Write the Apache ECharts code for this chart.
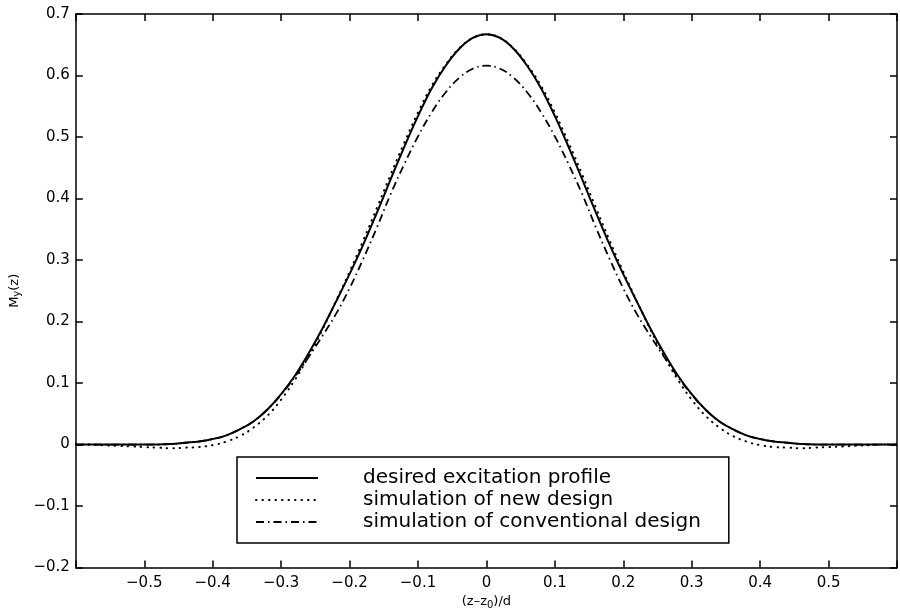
<!DOCTYPE html>
<html>
<head>
<meta charset="utf-8">
<script src="https://cdn.jsdelivr.net/npm/echarts@6/dist/echarts.min.js"></script>
<style>html,body{margin:0;padding:0;background:#fff;}#c{width:900px;height:615px;}</style>
</head>
<body>
<div id="c"></div>
<script>
// x positions (z - z0)/d
const xs = [-0.60,-0.58,-0.56,-0.54,-0.52,-0.50,-0.48,-0.46,-0.44,-0.42,-0.40,-0.38,-0.36,-0.34,-0.32,-0.30,-0.28,-0.26,-0.24,-0.22,-0.20,-0.18,-0.16,-0.14,-0.12,-0.10,-0.08,-0.06,-0.04,-0.02,0.00,
  0.02,0.04,0.06,0.08,0.10,0.12,0.14,0.16,0.18,0.20,0.22,0.24,0.26,0.28,0.30,0.32,0.34,0.36,0.38,0.40,0.42,0.44,0.46,0.48,0.50,0.52,0.54,0.56,0.58,0.60];
// desired excitation profile
const desired = [0,0,0,0,0,0,0,0.001,0.003,0.005,0.009,0.015,0.025,0.038,0.057,0.082,0.112,0.148,0.188,0.232,0.277,0.325,0.377,0.431,0.484,0.534,0.579,0.615,0.643,0.661,0.667,
  0.661,0.643,0.615,0.579,0.534,0.484,0.431,0.377,0.325,0.277,0.232,0.188,0.148,0.112,0.082,0.057,0.038,0.025,0.015,0.009,0.005,0.003,0.001,0,0,0,0,0,0,0];
// simulation of new design
const newDesign = [0,0,-0.001,-0.002,-0.003,-0.004,-0.005,-0.006,-0.005,-0.004,-0.001,0.005,0.014,0.028,0.047,0.073,0.105,0.143,0.186,0.233,0.281,0.332,0.385,0.439,0.491,0.540,0.583,0.617,0.644,0.661,0.667,
  0.661,0.644,0.617,0.583,0.540,0.491,0.439,0.385,0.332,0.281,0.233,0.186,0.143,0.105,0.073,0.047,0.028,0.014,0.005,-0.001,-0.004,-0.005,-0.006,-0.005,-0.004,-0.003,-0.002,-0.001,0,0];
// simulation of conventional design
const conventional = [0,0,0,0,0,0,0,0.001,0.003,0.005,0.009,0.015,0.025,0.038,0.057,0.081,0.110,0.142,0.176,0.212,0.254,0.302,0.353,0.407,0.456,0.501,0.540,0.572,0.596,0.611,0.616,
  0.611,0.596,0.572,0.540,0.501,0.456,0.407,0.353,0.302,0.254,0.212,0.176,0.142,0.110,0.081,0.057,0.038,0.025,0.015,0.009,0.005,0.003,0.001,0,0,0,0,0,0,0];

const seriesNames = ['desired excitation profile', 'simulation of new design', 'simulation of conventional design'];
const xTickValues = [-0.5,-0.4,-0.3,-0.2,-0.1,0,0.1,0.2,0.3,0.4,0.5];
const xTickLabels = ['\u22120.5','\u22120.4','\u22120.3','\u22120.2','\u22120.1','0','0.1','0.2','0.3','0.4','0.5'];
const yTickValues = [-0.2,-0.1,0,0.1,0.2,0.3,0.4,0.5,0.6,0.7];
const yTickLabels = ['\u22120.2','\u22120.1','0','0.1','0.2','0.3','0.4','0.5','0.6','0.7'];
const xTitle = '(z\u2013z{sub|0})/d';
const yTitle = 'M{sub|y}(z)';

function lookup(vals, labels) {
  return function (v) {
    for (let i = 0; i < vals.length; i++) if (Math.abs(vals[i] - v) < 1e-6) return labels[i];
    return '';
  };
}
const pairs = arr => xs.map((x, i) => [x, arr[i]]);

const FONT = 'DejaVu Sans';
const axisCommon = {
  type: 'value',
  axisLine: { show: true, onZero: false, lineStyle: { color: '#000', width: 1.5 } },
  axisTick: { show: true, inside: true, length: 7, lineStyle: { color: '#000', width: 1.5 } },
  splitLine: { show: false }
};
const subStyle = { fontSize: 10, verticalAlign: 'bottom', padding: [6, 0, 0, 0], fontFamily: FONT, color: '#000' };

const chart = echarts.init(document.getElementById('c'), null, { renderer: 'canvas' });
chart.setOption({
  backgroundColor: '#fff',
  animation: false,
  grid: { left: 74, top: 14, width: 831, height: 560, containLabel: false },
  xAxis: [
    Object.assign({}, axisCommon, {
      position: 'bottom', min: -0.6, max: 0.6, interval: 0.1,
      axisLabel: { formatter: lookup(xTickValues, xTickLabels), color: '#000', fontFamily: FONT, fontSize: 15, margin: 8 },
      name: xTitle, nameLocation: 'middle', nameGap: 24,
      nameTextStyle: { color: '#000', fontFamily: FONT, fontSize: 13, rich: { sub: subStyle } }
    }),
    Object.assign({}, axisCommon, {
      position: 'top', min: -0.6, max: 0.6, interval: 0.1, axisLabel: { show: false }
    })
  ],
  yAxis: [
    Object.assign({}, axisCommon, {
      position: 'left', min: -0.2, max: 0.7, interval: 0.1,
      axisLabel: { formatter: lookup(yTickValues, yTickLabels), color: '#000', fontFamily: FONT, fontSize: 15, margin: 6 },
      name: yTitle, nameLocation: 'middle', nameGap: 41, nameRotate: 90,
      nameTextStyle: { color: '#000', fontFamily: FONT, fontSize: 13, rich: { sub: subStyle } }
    }),
    Object.assign({}, axisCommon, {
      position: 'right', min: -0.2, max: 0.7, interval: 0.1, axisLabel: { show: false }
    })
  ],
  legend: {
    orient: 'vertical',
    left: 237, top: 457,
    data: seriesNames,
    itemWidth: 62, itemHeight: 14, itemGap: 2,
    padding: [11, 28, 11, 18],
    borderColor: '#000', borderWidth: 1.5,
    backgroundColor: '#fff',
    itemStyle: { color: 'rgba(0,0,0,0)', borderColor: 'rgba(0,0,0,0)', borderWidth: 0 },
    textStyle: { color: '#000', fontFamily: FONT, fontSize: 20, lineHeight: 20, padding: [0, 0, 0, 40] }
  },
  series: [
    {
      name: seriesNames[0], type: 'line', data: pairs(desired), symbol: 'none', smooth: 0.4,
      itemStyle: { color: '#000' },
      lineStyle: { color: '#000', width: 2, type: 'solid' }, z: 3
    },
    {
      name: seriesNames[1], type: 'line', data: pairs(newDesign), symbol: 'none', smooth: 0.4,
      itemStyle: { color: '#000' },
      lineStyle: { color: '#000', width: 2, type: [0.5, 6], cap: 'round' }, z: 2
    },
    {
      name: seriesNames[2], type: 'line', data: pairs(conventional), symbol: 'none', smooth: 0.4,
      itemStyle: { color: '#000' },
      lineStyle: { color: '#000', width: 1.8, type: [8, 4, 1.5, 4] }, z: 2
    }
  ]
});
</script>
</body>
</html>
